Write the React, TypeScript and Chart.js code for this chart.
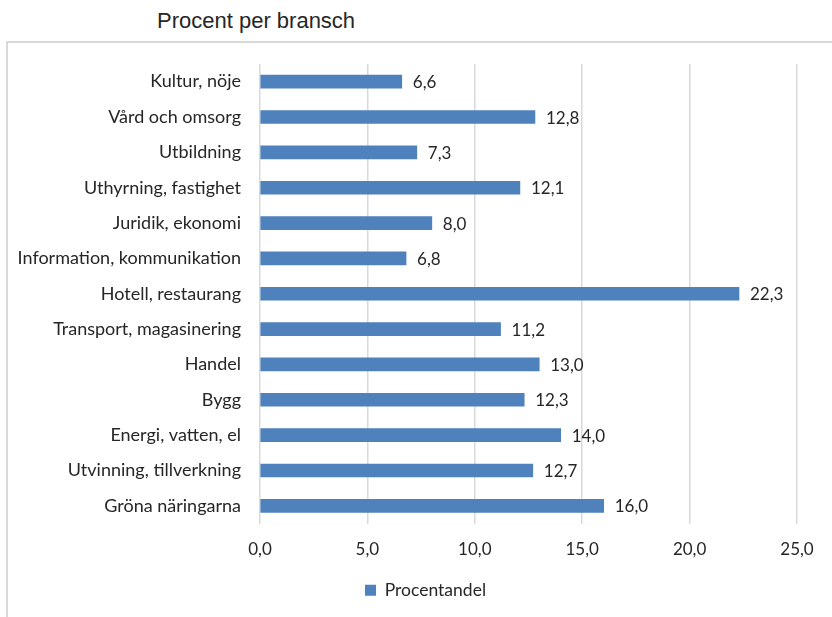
import React, { useEffect, useRef } from "react";
import { Chart, registerables } from "chart.js";

Chart.register(...registerables);

const categories = [
  "Kultur, nöje",
  "Vård och omsorg",
  "Utbildning",
  "Uthyrning, fastighet",
  "Juridik, ekonomi",
  "Information, kommunikation",
  "Hotell, restaurang",
  "Transport, magasinering",
  "Handel",
  "Bygg",
  "Energi, vatten, el",
  "Utvinning, tillverkning",
  "Gröna näringarna",
];
const values = [6.6, 12.8, 7.3, 12.1, 8.0, 6.8, 22.3, 11.2, 13.0, 12.3, 14.0, 12.7, 16.0];
const seriesName = "Procentandel";
const titleText = "Procent per bransch";
const xMin = 0;
const xMax = 25;
const xStep = 5;

const FONT = "Lato, 'Open Sans', sans-serif";
const FS = 17;
const TEXT = "#262626";
const BAR = "#4f81bd";
const GRID = "#d9d9d9";

const fmt = (v: number) => v.toFixed(1).replace(".", ",");

const valueLabels = {
  id: "valueLabels",
  afterDatasetsDraw(chart: any) {
    const ctx = chart.ctx;
    const meta = chart.getDatasetMeta(0);
    ctx.save();
    ctx.font = `${FS}px ${FONT}`;
    ctx.fillStyle = TEXT;
    ctx.textAlign = "left";
    ctx.textBaseline = "middle";
    meta.data.forEach((el: any, i: number) => {
      ctx.fillText(fmt(values[i]), el.x + 11, el.y + 1);
    });
    ctx.restore();
  },
};

const shiftLegend = {
  id: "shiftLegend",
  afterLayout(chart: any) {
    const lg = chart.legend;
    if (lg) {
      lg.left += 27;
      lg.right += 27;
    }
  },
};

export default function App() {
  const ref = useRef<HTMLCanvasElement | null>(null);
  useEffect(() => {
    if (!ref.current) return;
    const chart = new Chart(ref.current, {
      type: "bar",
      data: {
        labels: categories,
        datasets: [
          {
            label: seriesName,
            data: values,
            backgroundColor: BAR,
            borderWidth: 0,
            barThickness: 13,
          },
        ],
      },
      options: {
        indexAxis: "y",
        animation: false,
        responsive: false,
        maintainAspectRatio: false,
        layout: { padding: { top: 64, right: 35, bottom: 8, left: 0 } },
        scales: {
          x: {
            min: xMin,
            max: xMax,
            border: { display: false },
            grid: { color: GRID, lineWidth: 1.5, drawTicks: false },
            ticks: {
              stepSize: xStep,
              padding: 16,
              color: TEXT,
              font: { family: FONT, size: FS },
              callback: (v: any) => fmt(Number(v)),
            },
            afterFit: (s: any) => {
              s.height = 48;
            },
          },
          y: {
            border: { display: false },
            grid: { display: false, drawTicks: false },
            ticks: {
              padding: 19,
              color: TEXT,
              font: { family: FONT, size: 18 },
            },
            afterFit: (s: any) => {
              s.width = 260;
            },
          },
        },
        plugins: {
          legend: {
            position: "bottom",
            labels: {
              boxWidth: 11,
              boxHeight: 11,
              color: TEXT,
              font: { family: FONT, size: 17.5 },
            },
          },
          tooltip: { enabled: false },
          title: { display: false },
        },
      },
      plugins: [valueLabels, shiftLegend],
    });
    return () => chart.destroy();
  }, []);

  return (
    <div
      style={{
        position: "absolute",
        left: 0,
        top: 0,
        width: 832,
        height: 617,
        overflow: "hidden",
        background: "#fff",
      }}
    >
      <div
        style={{
          position: "absolute",
          left: 157,
          top: 8,
          fontFamily: "'Liberation Sans', Arial, sans-serif",
          fontSize: 22,
          color: TEXT,
          whiteSpace: "nowrap",
        }}
      >
        {titleText}
      </div>
      <div
        style={{
          position: "absolute",
          left: 6,
          top: 41,
          width: 900,
          height: 700,
          border: `2px solid ${GRID}`,
          boxSizing: "border-box",
        }}
      />
      <canvas
        ref={ref}
        width={832}
        height={617}
        style={{ position: "absolute", left: 0, top: 0, width: 832, height: 617 }}
      />
    </div>
  );
}
